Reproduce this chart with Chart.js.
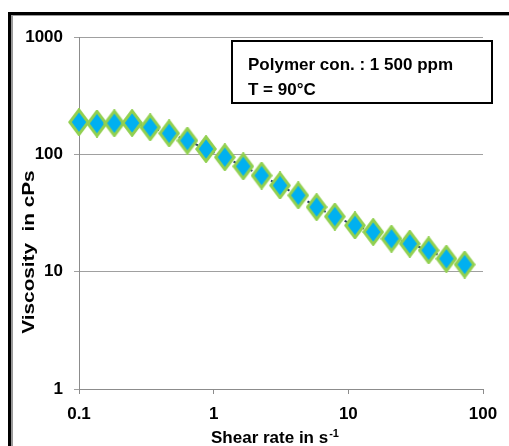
<!DOCTYPE html>
<html>
<head>
<meta charset="utf-8">
<script src="https://cdn.jsdelivr.net/npm/chart.js@4.4.1/dist/chart.umd.min.js"></script>
<style>
  html, body { margin: 0; padding: 0; background: #fff; }
  #wrap { position: relative; width: 509px; height: 446px; overflow: hidden; }
  #frame {
    position: absolute; left: 8px; top: 12px; width: 700px; height: 600px;
    border-top: 3px solid #000; border-left: 3px solid #000;
    box-shadow: inset 2px 1px 0 #9a9a9a; pointer-events: none;
  }
</style>
</head>
<body>
<div id="wrap">
  <canvas id="myChart" width="509" height="446"></canvas>
  <div id="frame"></div>
</div>
<script>
// shear rate (1/s) and measured viscosity (cPs)
const shearRate = [0.1, 0.136, 0.183, 0.248, 0.338, 0.467, 0.638, 0.878, 1.21, 1.66, 2.27,
  3.11, 4.25, 5.81, 7.94, 11.2, 15.3, 20.9, 28.6, 39.5, 53.5, 73.1];
const viscosity = [188, 183, 184, 185, 170, 151, 131, 111, 94.5, 79, 66,
  54.3, 44.7, 35.5, 29.5, 24.8, 21.8, 19.1, 17.3, 15.2, 12.9, 11.5];
const xTicks = [0.1, 1, 10, 100];
const yTicks = [1, 10, 100, 1000];
const noteLines = ["Polymer con. : 1 500 ppm", "T = 90°C"];

const FONT = "'Liberation Sans', Arial, sans-serif";

// diamond marker, a bit taller than wide
function makeDiamond() {
  const c = document.createElement("canvas");
  c.width = 22;
  c.height = 28;
  const g = c.getContext("2d");
  g.beginPath();
  g.moveTo(11, 1.8);
  g.lineTo(20.2, 14);
  g.lineTo(11, 26.2);
  g.lineTo(1.8, 14);
  g.closePath();
  g.fillStyle = "#00B0F0";
  g.fill();
  g.lineWidth = 3;
  g.strokeStyle = "#92D050";
  g.stroke();
  return c;
}

const points = shearRate.map((x, i) => ({ x: x, y: viscosity[i] }));

// note box, axis titles
const extras = {
  id: "extras",
  afterDraw(chart) {
    const ctx = chart.ctx;
    ctx.save();
    ctx.fillStyle = "#000";
    ctx.strokeStyle = "#000";

    ctx.lineWidth = 2;
    ctx.strokeRect(232, 41, 260, 62);
    ctx.font = "bold 17px " + FONT;
    ctx.textAlign = "left";
    ctx.textBaseline = "middle";
    ctx.fillText(noteLines[0], 248, 65);
    ctx.fillText(noteLines[1], 248, 90);

    // x title with superscript
    ctx.textBaseline = "alphabetic";
    ctx.font = "bold 17px " + FONT;
    const main = "Shear rate in s";
    ctx.fillText(main, 211, 443);
    const w = ctx.measureText(main).width;
    ctx.font = "bold 11px " + FONT;
    ctx.fillText("-1", 211 + w + 1, 437);

    // y title
    ctx.translate(29, 252);
    ctx.rotate(-Math.PI / 2);
    ctx.scale(1.22, 1);
    ctx.font = "bold 17px " + FONT;
    ctx.textAlign = "center";
    ctx.textBaseline = "middle";
    ctx.fillText("Viscosity  in cPs", 0, 0);
    ctx.restore();
  }
};

const ctx = document.getElementById("myChart").getContext("2d");
const myChart = new Chart(ctx, {
  type: "scatter",
  data: {
    datasets: [{
      data: points,
      showLine: true,
      clip: false,
      borderColor: "#1F3864",
      borderWidth: 2,
      borderDash: [3, 3],
      pointStyle: makeDiamond(),
      pointRadius: 10,
      pointHoverRadius: 10
    }]
  },
  options: {
    responsive: false,
    devicePixelRatio: 1,
    animation: false,
    layout: { padding: { top: 37, right: 26, left: 0, bottom: 0 } },
    plugins: { legend: { display: false }, tooltip: { enabled: false } },
    scales: {
      x: {
        type: "logarithmic",
        min: 0.1,
        max: 100,
        afterBuildTicks: (scale) => { scale.ticks = xTicks.map(v => ({ value: v })); },
        afterFit: (scale) => { scale.height = 57; },
        grid: { drawOnChartArea: false, drawTicks: true, tickLength: 5, color: "#8c8c8c" },
        border: { display: true, color: "#8c8c8c", width: 1 },
        ticks: {
          callback: (v) => String(v),
          color: "#000",
          padding: 10,
          maxRotation: 0,
          font: { family: FONT, size: 17, weight: "bold" }
        }
      },
      y: {
        type: "logarithmic",
        min: 1,
        max: 1000,
        afterBuildTicks: (scale) => { scale.ticks = yTicks.map(v => ({ value: v })); },
        afterFit: (scale) => { scale.width = 79; },
        grid: { color: "#a0a0a0", tickLength: 5 },
        border: { display: true, color: "#8c8c8c", width: 1 },
        ticks: {
          callback: (v) => String(v),
          color: "#000",
          padding: 11,
          font: { family: FONT, size: 17, weight: "bold" }
        }
      }
    }
  },
  plugins: [extras]
});
</script>
</body>
</html>
